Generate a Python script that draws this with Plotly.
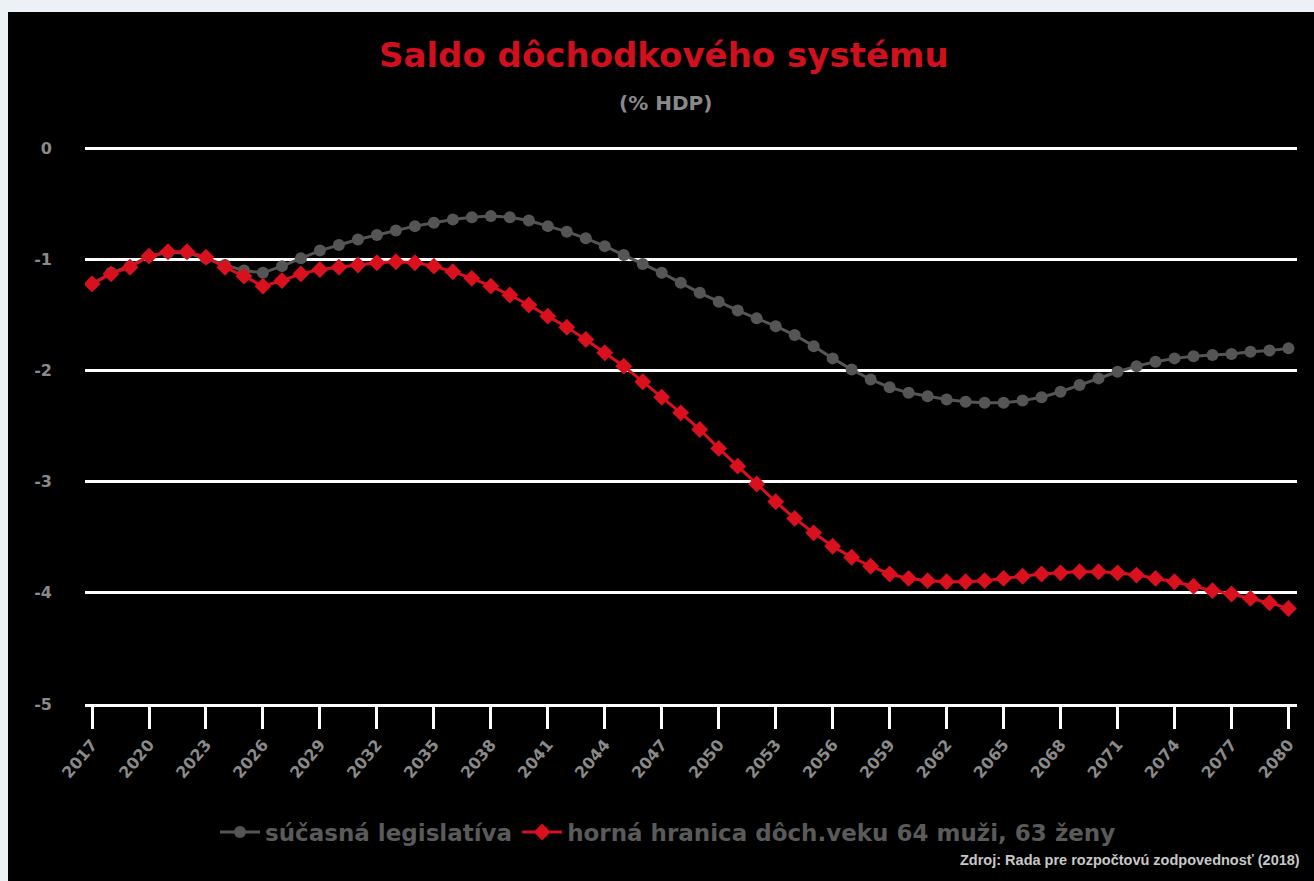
import plotly.graph_objects as go

years = list(range(2017, 2081))

current_law = [
    -1.22, -1.12, -1.06, -0.97, -0.94, -0.94, -0.99, -1.05, -1.10, -1.12,
    -1.06, -0.99, -0.92, -0.87, -0.82, -0.78, -0.74, -0.70, -0.67, -0.64,
    -0.62, -0.61, -0.62, -0.65, -0.70, -0.75, -0.81, -0.88, -0.96, -1.04,
    -1.12, -1.21, -1.30, -1.38, -1.46, -1.53, -1.60, -1.68, -1.78, -1.89,
    -1.99, -2.08, -2.15, -2.20, -2.23, -2.26, -2.28, -2.29, -2.29, -2.27,
    -2.24, -2.19, -2.13, -2.07, -2.01, -1.96, -1.92, -1.89, -1.87, -1.86,
    -1.85, -1.83, -1.82, -1.80,
]

upper_limit = [
    -1.22, -1.13, -1.07, -0.97, -0.93, -0.93, -0.98, -1.07, -1.15, -1.24,
    -1.19, -1.13, -1.09, -1.07, -1.05, -1.03, -1.02, -1.03, -1.06, -1.11,
    -1.17, -1.24, -1.32, -1.41, -1.51, -1.61, -1.72, -1.84, -1.96, -2.10,
    -2.24, -2.38, -2.53, -2.70, -2.86, -3.02, -3.18, -3.33, -3.46, -3.58,
    -3.68, -3.76, -3.83, -3.87, -3.89, -3.90, -3.90, -3.89, -3.87, -3.85,
    -3.83, -3.82, -3.81, -3.81, -3.82, -3.84, -3.87, -3.90, -3.94, -3.98,
    -4.01, -4.05, -4.09, -4.14,
]

tick_years = years[::3]
y_ticks = [0, -1, -2, -3, -4, -5]

series_names = ["súčasná legislatíva", "horná hranica dôch.veku 64 muži, 63 ženy"]
title_text = "Saldo dôchodkového systému"
subtitle_text = "(% HDP)"
source_text = "Zdroj: Rada pre rozpočtovú zodpovednosť (2018)"

W, H = 1314, 881
ML, MR, MT, MB = 85, 17, 147, 177
pw = W - ML - MR
ph = H - MT - MB

BOLD = "DejaVu Sans, Liberation Sans, Arial"

fig = go.Figure()
fig.add_trace(go.Scatter(
    x=years, y=current_law, name=f"<b>{series_names[0]}</b>", mode="lines+markers",
    line=dict(color="#555555", width=3),
    marker=dict(symbol="circle", size=12, color="#555555"),
))
fig.add_trace(go.Scatter(
    x=years, y=upper_limit, name=f"<b>{series_names[1]}</b>", mode="lines+markers",
    line=dict(color="#D9101E", width=3),
    marker=dict(symbol="diamond", size=13, color="#D9101E"),
))

# black panel behind the chart (page shows a light frame at top-left)
fig.add_shape(type="rect", xref="paper", yref="paper", layer="below",
              x0=(8 - ML) / pw, x1=(W - ML) / pw,
              y0=-MB / ph, y1=(H - MB - 12) / ph,
              fillcolor="black", line=dict(width=0))

fig.add_annotation(text=f"<b>{title_text}</b>", xref="paper", yref="paper",
                   x=(664 - ML) / pw, y=(H - MB - 55) / ph, showarrow=False,
                   yanchor="middle",
                   font=dict(family=BOLD, size=34, color="#D0101C"))
fig.add_annotation(text=f"<b>{subtitle_text}</b>", xref="paper", yref="paper",
                   x=(665 - ML) / pw, y=(H - MB - 103) / ph, showarrow=False,
                   yanchor="middle",
                   font=dict(family=BOLD, size=20, color="#8a8a8a"))
fig.add_annotation(text=f"<b>{source_text}</b>", xref="paper", yref="paper",
                   x=(1302 - ML) / pw, y=(H - MB - 860) / ph, showarrow=False,
                   xanchor="right", yanchor="middle",
                   font=dict(family="Liberation Sans Narrow, Liberation Sans, Arial", size=14.5, color="#c8c8c8"))

fig.update_layout(
    width=W, height=H,
    margin=dict(l=ML, r=MR, t=MT, b=MB),
    paper_bgcolor="#ECF1F6",
    plot_bgcolor="black",
    font=dict(family="Liberation Sans, Arial", color="#8a8a8a"),
    showlegend=True,
    legend=dict(orientation="h", x=(668 - ML) / pw, xanchor="center",
                yref="container", y=1 - 832 / H, yanchor="middle",
                font=dict(size=23, color="#5a5a5a", family=BOLD),
                bgcolor="rgba(0,0,0,0)", itemwidth=40),
    xaxis=dict(range=[2016.63, 2080.45], tickvals=tick_years,
               ticktext=[f"<b>{t}</b>" for t in tick_years],
               tickangle=-50, showgrid=False, zeroline=False,
               showline=True, linecolor="white", linewidth=3,
               ticks="outside", ticklen=22, tickwidth=3, tickcolor="white",
               tickfont=dict(size=16, color="#8a8a8a", family=BOLD)),
    yaxis=dict(range=[-5, 0.012], tickvals=y_ticks,
               ticktext=[f"<b>{v}</b>" for v in y_ticks],
               showgrid=True, gridcolor="white", gridwidth=3, zeroline=False,
               showline=False, ticklabelstandoff=32,
               tickfont=dict(size=16, color="#8a8a8a", family=BOLD)),
)

fig.write_html("out.html", config={"displayModeBar": False},
               post_script="document.body.style.margin='0';document.body.style.background='#ECF1F6';")
